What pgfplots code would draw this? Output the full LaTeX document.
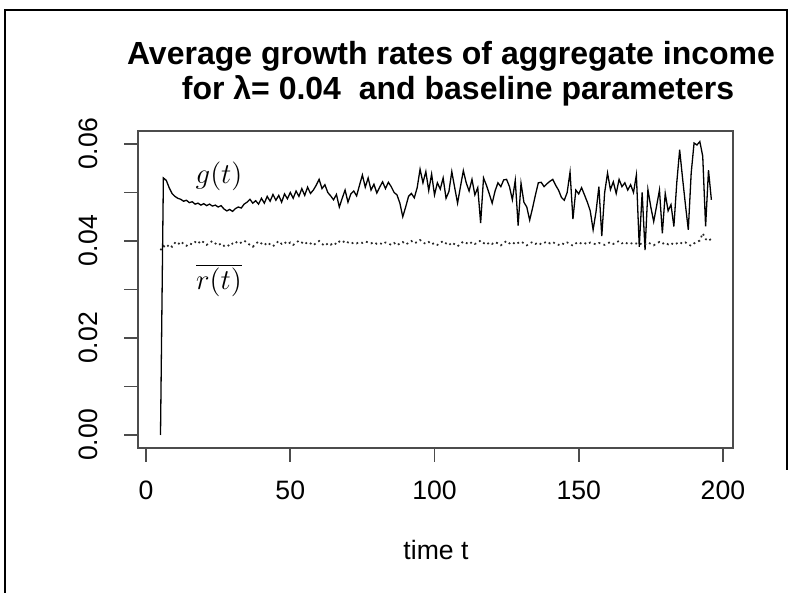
\documentclass[border=0pt]{standalone}
\usepackage{fontspec}
\setmainfont{Liberation Sans}
\usepackage{pgfplots}
\usepackage{pgfplotstable}
\pgfplotsset{compat=1.18}

% t, g(t), mean r(t)
\pgfplotstableread{
t g r
5 0.0000 0.0381
6 0.0530 0.0390
7 0.0525 0.0386
8 0.0510 0.0393
9 0.0498 0.0388
10 0.0492 0.0396
11 0.0488 0.0392
12 0.0486 0.0399
13 0.0482 0.0394
14 0.0484 0.0390
15 0.0479 0.0395
16 0.0481 0.0393
17 0.0476 0.0398
18 0.0478 0.0394
19 0.0474 0.0401
20 0.0477 0.0397
21 0.0473 0.0392
22 0.0476 0.0396
23 0.0472 0.0400
24 0.0474 0.0395
25 0.0470 0.0391
26 0.0473 0.0395
27 0.0466 0.0390
28 0.0462 0.0393
29 0.0465 0.0389
30 0.0461 0.0395
31 0.0467 0.0399
32 0.0470 0.0394
33 0.0468 0.0397
34 0.0476 0.0401
35 0.0480 0.0396
36 0.0486 0.0392
37 0.0478 0.0388
38 0.0483 0.0394
39 0.0476 0.0399
40 0.0488 0.0395
41 0.0478 0.0391
42 0.0492 0.0397
43 0.0482 0.0393
44 0.0496 0.0389
45 0.0484 0.0395
46 0.0494 0.0400
47 0.0480 0.0394
48 0.0497 0.0398
49 0.0487 0.0393
50 0.0500 0.0397
51 0.0488 0.0392
52 0.0503 0.0396
53 0.0492 0.0401
54 0.0508 0.0397
55 0.0494 0.0393
56 0.0511 0.0398
57 0.0498 0.0395
58 0.0505 0.0391
59 0.0515 0.0396
60 0.0527 0.0400
61 0.0508 0.0394
62 0.0516 0.0390
63 0.0500 0.0395
64 0.0493 0.0392
65 0.0485 0.0397
66 0.0496 0.0393
67 0.0470 0.0399
68 0.0488 0.0396
69 0.0505 0.0401
70 0.0480 0.0397
71 0.0497 0.0394
72 0.0503 0.0397
73 0.0493 0.0395
74 0.0515 0.0398
75 0.0536 0.0396
76 0.0511 0.0399
77 0.0530 0.0397
78 0.0505 0.0395
79 0.0517 0.0398
80 0.0499 0.0394
81 0.0511 0.0396
82 0.0522 0.0393
83 0.0508 0.0397
84 0.0521 0.0395
85 0.0512 0.0392
86 0.0500 0.0396
87 0.0495 0.0391
88 0.0478 0.0395
89 0.0450 0.0398
90 0.0470 0.0393
91 0.0492 0.0396
92 0.0498 0.0400
93 0.0489 0.0395
94 0.0510 0.0398
95 0.0548 0.0402
96 0.0520 0.0397
97 0.0543 0.0394
98 0.0504 0.0398
99 0.0538 0.0393
100 0.0495 0.0396
101 0.0520 0.0392
102 0.0507 0.0396
103 0.0530 0.0400
104 0.0488 0.0395
105 0.0502 0.0391
106 0.0543 0.0397
107 0.0510 0.0393
108 0.0478 0.0389
109 0.0512 0.0394
110 0.0545 0.0399
111 0.0520 0.0396
112 0.0503 0.0393
113 0.0527 0.0398
114 0.0495 0.0394
115 0.0510 0.0397
116 0.0437 0.0401
117 0.0530 0.0396
118 0.0515 0.0392
119 0.0497 0.0397
120 0.0478 0.0394
121 0.0503 0.0398
122 0.0520 0.0395
123 0.0512 0.0391
124 0.0526 0.0396
125 0.0527 0.0400
126 0.0512 0.0395
127 0.0485 0.0398
128 0.0525 0.0393
129 0.0432 0.0396
130 0.0519 0.0399
131 0.0480 0.0395
132 0.0470 0.0391
133 0.0443 0.0395
134 0.0468 0.0398
135 0.0495 0.0394
136 0.0520 0.0397
137 0.0521 0.0393
138 0.0512 0.0396
139 0.0518 0.0399
140 0.0523 0.0395
141 0.0527 0.0398
142 0.0515 0.0394
143 0.0505 0.0392
144 0.0490 0.0396
145 0.0484 0.0393
146 0.0500 0.0397
147 0.0542 0.0394
148 0.0445 0.0390
149 0.0505 0.0395
150 0.0497 0.0398
151 0.0510 0.0394
152 0.0495 0.0396
153 0.0480 0.0393
154 0.0462 0.0397
155 0.0423 0.0395
156 0.0460 0.0393
157 0.0512 0.0396
158 0.0410 0.0394
159 0.0500 0.0392
160 0.0540 0.0395
161 0.0506 0.0398
162 0.0522 0.0394
163 0.0498 0.0397
164 0.0527 0.0400
165 0.0512 0.0395
166 0.0520 0.0398
167 0.0505 0.0394
168 0.0516 0.0396
169 0.0500 0.0393
170 0.0536 0.0395
171 0.0388 0.0392
172 0.0500 0.0396
173 0.0381 0.0393
174 0.0506 0.0397
175 0.0470 0.0394
176 0.0440 0.0391
177 0.0472 0.0395
178 0.0505 0.0398
179 0.0416 0.0394
180 0.0498 0.0397
181 0.0462 0.0393
182 0.0475 0.0396
183 0.0430 0.0392
184 0.0520 0.0395
185 0.0588 0.0398
186 0.0530 0.0394
187 0.0475 0.0397
188 0.0423 0.0393
189 0.0540 0.0390
190 0.0602 0.0395
191 0.0598 0.0398
192 0.0605 0.0401
193 0.0575 0.0416
194 0.0430 0.0404
195 0.0546 0.0400
196 0.0485 0.0405
}\growth

\begin{document}
\begin{tikzpicture}
% 1 px of the reference = 0.5pt
\useasboundingbox (0,0) rectangle (395.5pt,296.5pt);
\draw[line width=1pt] (2.5pt,0) -- (2.5pt,291.5pt) -- (393.5pt,291.5pt) -- (393.5pt,61.5pt);

\node[anchor=base, font=\fontsize{16}{19}\selectfont\bfseries] at (225.5pt,264pt)
  {Average growth rates of aggregate income};
\node[anchor=base, font=\fontsize{16}{19}\selectfont\bfseries] at (229pt,246.5pt)
  {for λ= 0.04~ and baseline parameters};
\node[anchor=base, font=\fontsize{13.3}{16}\selectfont] at (218pt,16.5pt) {time t};

\begin{axis}[
  at={(69pt,72.5pt)}, anchor=south west,
  scale only axis, width=297.5pt, height=158.5pt,
  xmin=-2.8, xmax=203.5, ymin=-0.00268, ymax=0.06268,
  scaled y ticks=false, scaled x ticks=false,
  axis line style={black!70, line width=0.9pt},
  tick style={black!70, line width=0.9pt},
  tick align=outside, major tick length=7pt,
  xtick pos=bottom, ytick pos=left,
  xtick={0,50,100,150,200}, xticklabels={0,50,100,150,200},
  ytick={0,0.01,0.02,0.03,0.04,0.05,0.06},
  yticklabels={0.00,,0.02,,0.04,,0.06},
  xticklabel style={font=\fontsize{13.3}{16}\selectfont, anchor=center},
  yticklabel style={font=\fontsize{13.3}{16}\selectfont, rotate=90, anchor=center},
  xticklabel shift=14pt, yticklabel shift=18pt,
  clip=false,
]
\addplot[black, line width=0.65pt, mark=none] table[x=t, y=g] {\growth};
\addplot[black!85, line width=0.85pt, mark=none, dash pattern=on 0.9pt off 1.7pt] table[x=t, y=r] {\growth};
\node[font=\fontsize{15}{18}\selectfont] at (axis cs:25.3,0.0534) {$g(t)$};
\node[font=\fontsize{15}{18}\selectfont] at (axis cs:25.3,0.0318) {$\overline{r(t)}$};
\end{axis}
\end{tikzpicture}
\end{document}
